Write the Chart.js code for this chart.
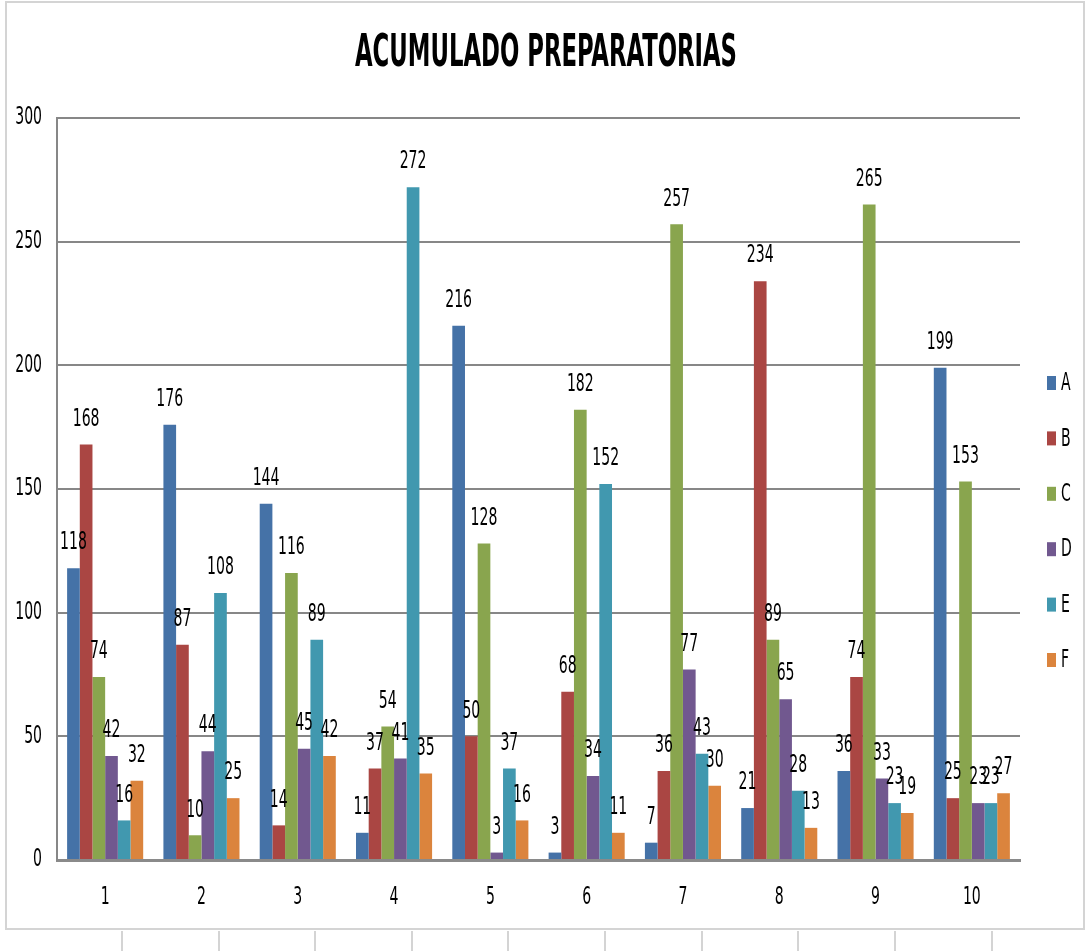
<!DOCTYPE html>
<html lang="es">
<head>
  <meta charset="UTF-8">
  <title>ACUMULADO PREPARATORIAS</title>
  <script src="https://cdn.jsdelivr.net/npm/chart.js"></script>
  <style>
    html, body { margin: 0; padding: 0; background: #fff; }
    .sheet { position: relative; width: 1089px; height: 951px; overflow: hidden; }
    .frame { position: absolute; left: 5px; top: 1px; width: 1080px; height: 929px; border: 2px solid #d4d4d4; box-sizing: border-box; }
    .cell { position: absolute; width: 2px; background: #d4d4d4; }
    canvas { position: absolute; left: 0; top: 0; }
  </style>
</head>
<body>
  <div class="sheet">
    <div class="frame"></div>
    <div id="cells"></div>
    <canvas id="chart" width="1089" height="951"></canvas>
  </div>

  <script>
    const categories = ['1', '2', '3', '4', '5', '6', '7', '8', '9', '10'];
    const seriesNames = ['A', 'B', 'C', 'D', 'E', 'F'];
    const valuesA = [118, 176, 144, 11, 216, 3, 7, 21, 36, 199];
    const valuesB = [168, 87, 14, 37, 50, 68, 36, 234, 74, 25];
    const valuesC = [74, 10, 116, 54, 128, 182, 257, 89, 265, 153];
    const valuesD = [42, 44, 45, 41, 3, 34, 77, 65, 33, 23];
    const valuesE = [16, 108, 89, 272, 37, 152, 43, 28, 23, 23];
    const valuesF = [32, 25, 42, 35, 16, 11, 30, 13, 19, 27];
    const yTicks = [0, 50, 100, 150, 200, 250, 300];
    const titleText = 'ACUMULADO PREPARATORIAS';

    const colors = ['#4572A7', '#AA4643', '#89A54E', '#71588F', '#4198AF', '#DB843D'];
    const font = "'DejaVu Sans Condensed', 'DejaVu Sans', sans-serif";
    // the original text is tall and narrow, so squeeze it a bit
    const squeeze = 0.65;

    // spreadsheet cell lines below the chart
    const cells = document.getElementById('cells');
    [121, 218, 314, 411, 507, 604, 701, 797, 894, 991].forEach(function(x) {
      const d = document.createElement('div');
      d.className = 'cell';
      d.style.left = x + 'px';
      d.style.top = '931px';
      d.style.height = '20px';
      cells.appendChild(d);
    });

    const allValues = [valuesA, valuesB, valuesC, valuesD, valuesE, valuesF];

    function drawText(ctx, text, x, y, align, size, sx, bold) {
      ctx.save();
      ctx.translate(x, y);
      ctx.scale(sx, 1);
      ctx.font = (bold ? 'bold ' : '') + size + 'px ' + font;
      ctx.fillStyle = '#000';
      ctx.textAlign = align;
      ctx.textBaseline = 'middle';
      ctx.fillText(text, 0, 0);
      ctx.restore();
    }

    const textLayer = {
      id: 'textLayer',
      afterDraw(chart) {
        const ctx = chart.ctx;
        const area = chart.chartArea;
        const xs = chart.scales.x;
        const ys = chart.scales.y;

        // title
        ctx.save();
        ctx.font = 'bold 44px ' + font;
        const tw = ctx.measureText(titleText).width;
        ctx.restore();
        drawText(ctx, titleText, 546, 55, 'center', 44, 382 / tw, true);

        // y tick labels
        yTicks.forEach(function(v) {
          drawText(ctx, String(v), area.left - 15, ys.getPixelForValue(v), 'right', 24, squeeze);
        });

        // x tick labels
        categories.forEach(function(c, i) {
          drawText(ctx, c, xs.getPixelForValue(i), area.bottom + 38, 'center', 24, squeeze);
        });

        // value labels
        chart.data.datasets.forEach(function(ds, i) {
          chart.getDatasetMeta(i).data.forEach(function(bar, j) {
            drawText(ctx, String(ds.data[j]), bar.x, bar.y - 25, 'center', 24, squeeze);
          });
        });

        // legend
        const lx = area.right + 27;
        const top = 383;
        const step = 55.4;
        chart.data.datasets.forEach(function(ds, i) {
          const y = top + i * step;
          ctx.fillStyle = ds.backgroundColor;
          ctx.fillRect(lx, y - 7, 9, 14);
          drawText(ctx, ds.label, lx + 14, y + 1, 'left', 24, squeeze);
        });
      }
    };

    const chart = new Chart(document.getElementById('chart'), {
      type: 'bar',
      data: {
        labels: categories,
        datasets: seriesNames.map(function(name, i) {
          return {
            label: name,
            data: allValues[i],
            backgroundColor: colors[i],
            borderWidth: 0,
            categoryPercentage: 0.79,
            barPercentage: 1.0
          };
        })
      },
      options: {
        responsive: false,
        animation: false,
        layout: { padding: { left: 0, right: 69, top: 118, bottom: 0 } },
        scales: {
          x: {
            grid: { display: false, drawTicks: false },
            border: { color: '#8a8a8a', width: 3 },
            ticks: { display: false },
            afterFit(scale) { scale.height = 91; }
          },
          y: {
            min: 0,
            max: 300,
            afterBuildTicks(scale) { scale.ticks = yTicks.map(function(v) { return { value: v }; }); },
            grid: { color: '#878787', lineWidth: 2, drawTicks: false },
            border: { color: '#878787', width: 2 },
            ticks: { display: false },
            afterFit(scale) { scale.width = 57; }
          }
        },
        plugins: {
          legend: { display: false },
          tooltip: { enabled: false },
          title: { display: false }
        }
      },
      plugins: [textLayer]
    });
  </script>
</body>
</html>
